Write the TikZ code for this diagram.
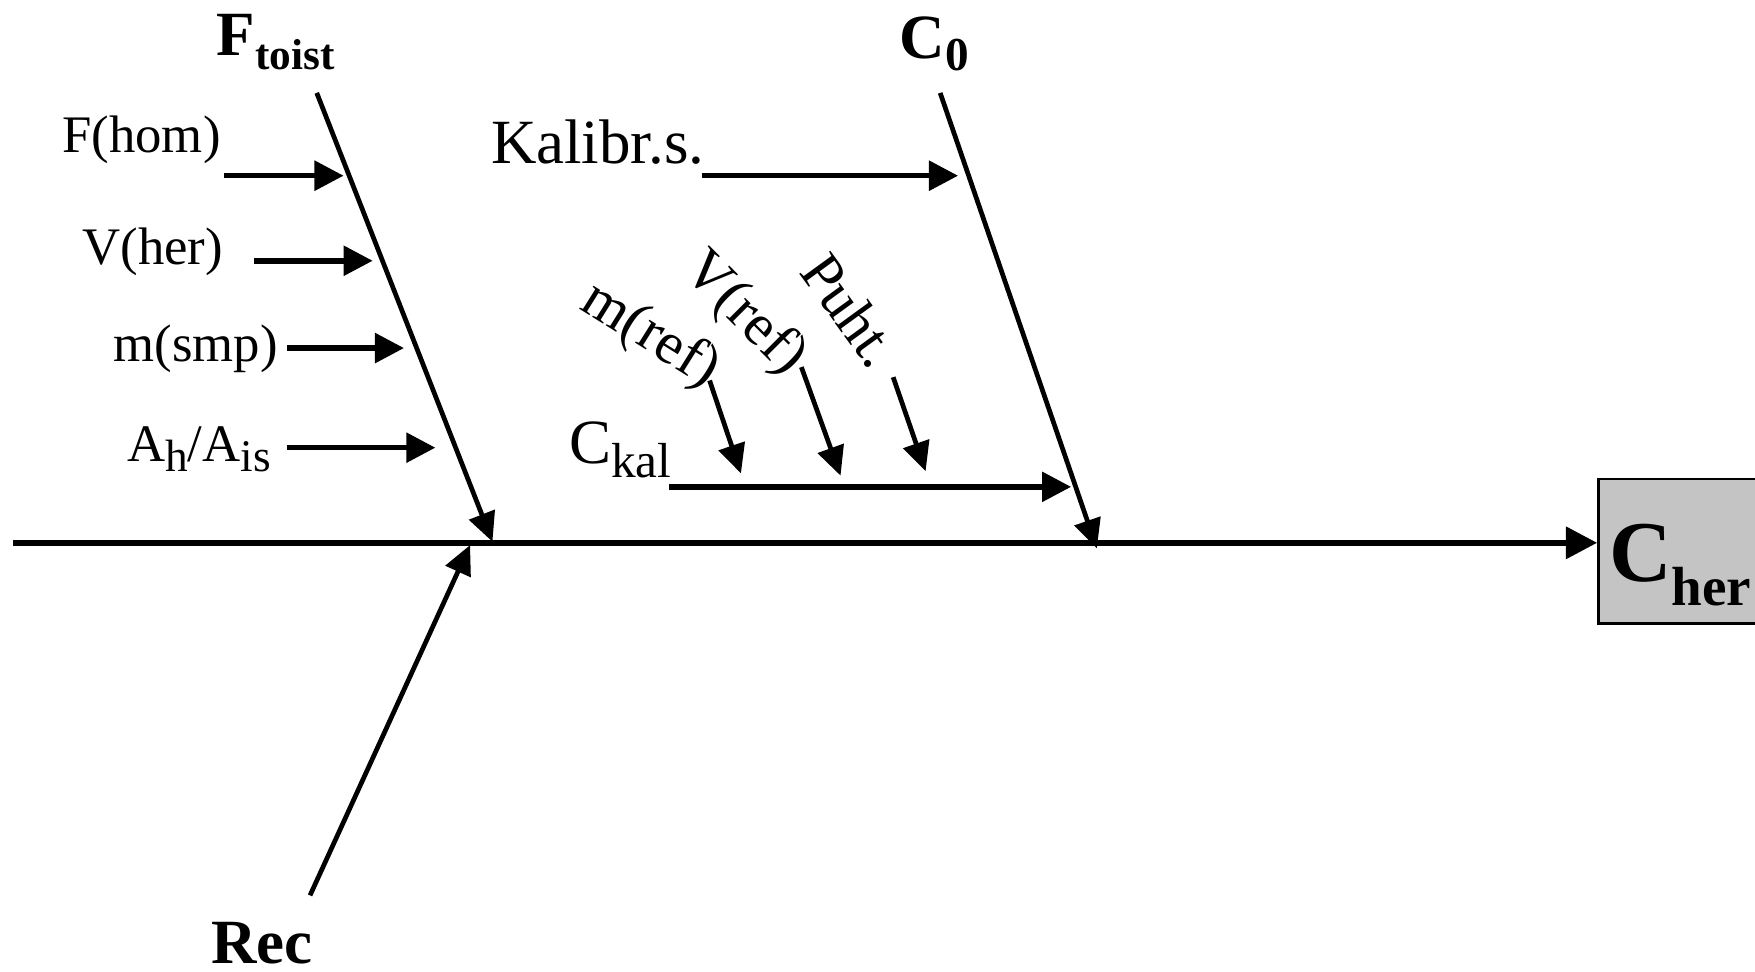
\documentclass[tikz,border=0pt]{standalone}
\usepackage{fontspec}
\setmainfont{Liberation Serif}
\usetikzlibrary{arrows.meta}
\tikzset{
  lbl/.style={inner sep=0pt, anchor=base west, font=\fontsize{13.4}{16}\selectfont},
  lblb/.style={inner sep=0pt, font=\fontsize{16}{19}\selectfont},
  lblr/.style={inner sep=0pt, font=\fontsize{15}{18}\selectfont},
  ttl/.style={inner sep=0pt, anchor=base west, font=\fontsize{16}{19}\selectfont\bfseries},
  arr/.style={line width=1.4pt, -{Triangle[length=0.26cm,width=0.26cm]}},
  bone/.style={line width=1.2pt, -{Triangle[length=0.26cm,width=0.24cm]}},
  spine/.style={line width=1.5pt, -{Triangle[length=0.28cm,width=0.28cm]}},
}
\begin{document}
\begin{tikzpicture}[x=0.01cm,y=-0.01cm]
\useasboundingbox (0,0) rectangle (1568,868);
% result box
\node[draw=black, line width=0.7pt, fill=black!23, minimum width=1.45cm, minimum height=1.29cm, anchor=west, inner sep=0pt] (cher) at (1427,492.5) {};
\node[inner sep=0pt, anchor=base west, font=\fontsize{22}{26}\selectfont\bfseries] (chertxt) at (1437,520) {C\raisebox{-0.27em}{\fontsize{14}{17}\selectfont her}};
% spine
\coordinate (s0) at (12,485);
\draw[spine] (s0) -- (s0 -| cher.west);
% bones
\node[ttl] (ftoist) at (193,50) {F\raisebox{-0.22em}{\fontsize{11}{13}\selectfont toist}};
\node[ttl] (c0) at (803,52) {C\raisebox{-0.2em}{\fontsize{12}{14}\selectfont 0}};
\node[ttl] (rec) at (188,861) {Rec};
\coordinate (f1) at (283,83);
\coordinate (f2) at (440,484);
\coordinate (c1) at (840,83);
\coordinate (c2) at (980,490);
\coordinate (r1) at (277,800);
\coordinate (r2) at (420,487);
\draw[bone] (f1) -- (f2);
\draw[bone] (c1) -- (c2);
\draw[bone] (r1) -- (r2);
% left causes
\node[lbl] (fhom) at (55,136) {F(hom)};
\node[lbl] (vher) at (73,236) {V(her)};
\node[lbl] (msmp) at (101,323) {m(smp)};
\node[lbl] (ahais) at (113,412) {A\raisebox{-0.2em}{\fontsize{11.5}{13}\selectfont h}/A\raisebox{-0.2em}{\fontsize{11.5}{13}\selectfont is}};
\coordinate (a1s) at (200,157); \coordinate (a1e) at (307,157);
\coordinate (a2s) at (227,233); \coordinate (a2e) at (333,233);
\coordinate (a3s) at (256,311); \coordinate (a3e) at (361,311);
\coordinate (a4s) at (256,400); \coordinate (a4e) at (389,400);
\draw[arr] (a1s) -- (a1e);
\draw[arr] (a2s) -- (a2e);
\draw[arr] (a3s) -- (a3e);
\draw[arr] (a4s) -- (a4e);
% C0 causes
\node[lblb, anchor=base west] (kal) at (438,146) {Kalibr.s.};
\coordinate (k1) at (627,157); \coordinate (k2) at (856,157);
\draw[arr] (k1) -- (k2);
\node[lblb, anchor=base west] (ckal) at (508,414) {C\raisebox{-0.22em}{\fontsize{12.5}{15}\selectfont kal}};
\coordinate (ck1) at (598,435); \coordinate (ck2) at (957,435);
\draw[arr] (ck1) -- (ck2);
% sub-causes of Ckal
\node[lblr, rotate=-32] (mref) at (581,300) {m(ref)};
\node[lblr, rotate=-45] (vref) at (665,281) {V(ref)};
\node[lblr, rotate=-54] (puht) at (760,277) {Puht.};
\coordinate (m1) at (634,340); \coordinate (m2) at (662,423);
\coordinate (v1) at (716,328); \coordinate (v2) at (751,425);
\coordinate (p1) at (798,337); \coordinate (p2) at (827,421);
\draw[bone] (m1) -- (m2);
\draw[bone] (v1) -- (v2);
\draw[bone] (p1) -- (p2);
\end{tikzpicture}
\end{document}
